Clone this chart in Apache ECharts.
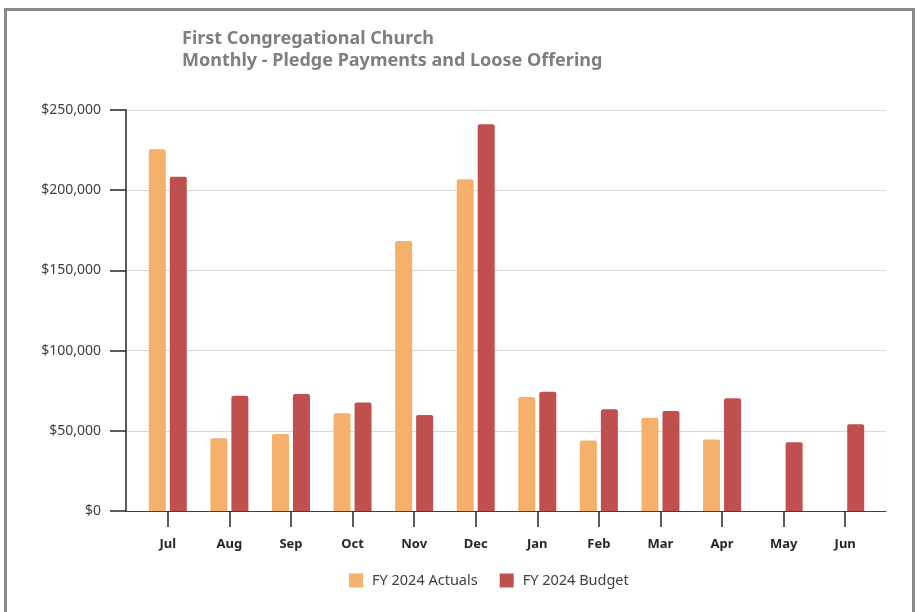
<!DOCTYPE html>
<html>
<head>
<meta charset="utf-8">
<script src="https://cdn.jsdelivr.net/npm/echarts@6/dist/echarts.min.js"></script>
<style>
  html, body { margin: 0; padding: 0; background: #fff; }
  #frame { position: absolute; left: 4px; top: 8px; width: 905px; height: 620px; border: 3px solid #8a8a8a; box-sizing: content-box; pointer-events: none; }
  #chart { position: absolute; left: 0; top: 0; width: 917px; height: 612px; }
</style>
</head>
<body>
<div id="chart"></div>
<div id="frame"></div>
<script>
const titleLines = ['First Congregational Church', 'Monthly - Pledge Payments and Loose Offering'];
const months = ['Jul', 'Aug', 'Sep', 'Oct', 'Nov', 'Dec', 'Jan', 'Feb', 'Mar', 'Apr', 'May', 'Jun'];
const seriesNames = ['FY 2024 Actuals', 'FY 2024 Budget'];
const actuals = [225500, 45300, 48000, 60900, 168300, 206800, 71100, 43900, 58200, 44500, null, null];
const budget = [208400, 71900, 72900, 67700, 59900, 241100, 74400, 63400, 62300, 70300, 42800, 54100];
const yMin = 0, yMax = 250000, yStep = 50000;

const FONT = '"Noto Sans", sans-serif';
const chart = echarts.init(document.getElementById('chart'));
chart.setOption({
  animation: false,
  textStyle: { fontFamily: FONT },
  title: {
    text: titleLines.join('\n'),
    left: 182, top: 28, padding: 0,
    textStyle: { fontFamily: FONT, fontSize: 18, fontWeight: 'bold', color: '#7f7f7f', lineHeight: 22 }
  },
  legend: {
    data: seriesNames,
    left: 349, top: 573, padding: 0,
    itemWidth: 14, itemHeight: 14, itemGap: 22,
    icon: 'rect',
    textStyle: { fontFamily: FONT, fontSize: 14.5, color: '#404040', padding: [0, 0, 0, 4] }
  },
  grid: [
    { left: 126, right: 31, top: 110, bottom: 101 },
    { left: 137, right: 41, top: 110, bottom: 101 }
  ],
  xAxis: [
    {
      type: 'value', gridIndex: 0, min: 0, max: 1,
      axisLine: { show: true, lineStyle: { color: '#404040', width: 1 } },
      axisTick: { show: false }, axisLabel: { show: false }, splitLine: { show: false }
    },
    {
      type: 'category', gridIndex: 1, data: months,
      axisLine: { show: false },
      axisTick: { show: true, alignWithLabel: true, length: 16, lineStyle: { color: '#262626', width: 1.5 } },
      axisLabel: { margin: 27, fontFamily: FONT, fontSize: 13, fontWeight: 'bold', color: '#262626' }
    }
  ],
  yAxis: [
    {
      type: 'value', gridIndex: 0, min: yMin, max: yMax, interval: yStep,
      axisLine: { show: true, lineStyle: { color: '#262626', width: 1.5 } },
      axisTick: { show: true, length: 16, lineStyle: { color: '#262626', width: 1.5 } },
      axisLabel: {
        margin: 25, fontFamily: FONT, fontSize: 14, color: '#404040',
        formatter: v => '$' + v.toLocaleString('en-US')
      },
      splitLine: { show: true, lineStyle: { color: '#d9d9d9', width: 1 } }
    },
    {
      type: 'value', gridIndex: 1, min: yMin, max: yMax, interval: yStep, show: false,
      splitLine: { show: false }
    }
  ],
  series: [
    {
      name: seriesNames[0], type: 'bar', xAxisIndex: 1, yAxisIndex: 1,
      data: actuals, barWidth: 17, barGap: '23.5%',
      itemStyle: { color: '#F5B16B', borderRadius: [2, 2, 0, 0] }
    },
    {
      name: seriesNames[1], type: 'bar', xAxisIndex: 1, yAxisIndex: 1,
      data: budget, barWidth: 17, barGap: '23.5%',
      itemStyle: { color: '#C0504D', borderRadius: [2, 2, 0, 0] }
    }
  ]
});
</script>
</body>
</html>
